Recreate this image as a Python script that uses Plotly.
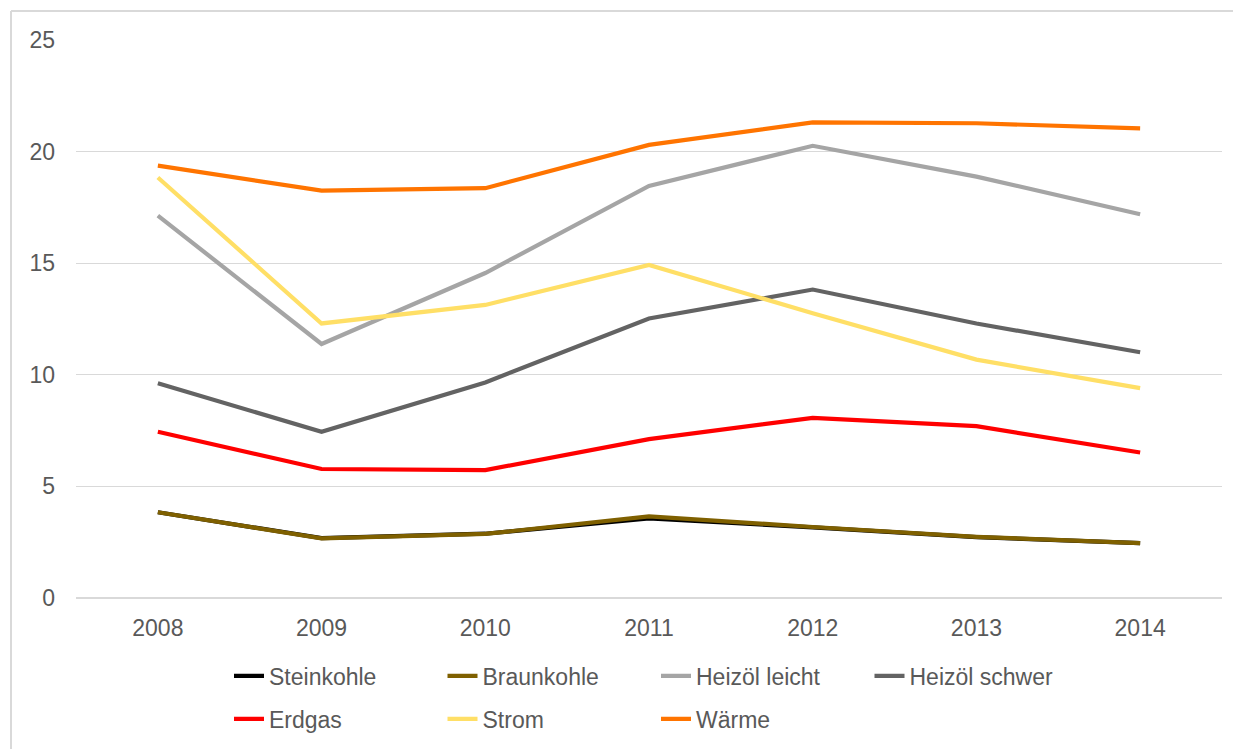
import plotly.graph_objects as go

years = ["2008", "2009", "2010", "2011", "2012", "2013", "2014"]

steinkohle = [3.84, 2.68, 2.88, 3.57, 3.16, 2.73, 2.46]
braunkohle = [3.84, 2.67, 2.87, 3.66, 3.18, 2.74, 2.46]
heizoel_leicht = [17.13, 11.38, 14.56, 18.46, 20.26, 18.88, 17.19]
heizoel_schwer = [9.62, 7.45, 9.66, 12.52, 13.82, 12.3, 11.01]
erdgas = [7.45, 5.78, 5.73, 7.12, 8.07, 7.7, 6.52]
strom = [18.84, 12.3, 13.13, 14.92, 12.76, 10.68, 9.4]
waerme = [19.37, 18.25, 18.36, 20.3, 21.31, 21.27, 21.04]

series = [
    ("Steinkohle", steinkohle, "#000000", "legend"),
    ("Braunkohle", braunkohle, "#7f6000", "legend"),
    ("Heizöl leicht", heizoel_leicht, "#a5a5a5", "legend"),
    ("Heizöl schwer", heizoel_schwer, "#636363", "legend"),
    ("Erdgas", erdgas, "#ff0000", "legend2"),
    ("Strom", strom, "#ffdf66", "legend2"),
    ("Wärme", waerme, "#ff7400", "legend2"),
]

FONT = "Liberation Sans, Arial, sans-serif"
TXT = "#595959"
FS = 23

fig = go.Figure()
for name, vals, col, lg in series:
    fig.add_trace(go.Scatter(
        x=years, y=vals, name=name, mode="lines",
        line=dict(color=col, width=4.2),
        legend=lg,
    ))

# page body offset compensation (8px) and plot area geometry (target pixels)
OFF = 8
L, R, T, B = 76, 1222, 40, 598
W, H = R - L, B - T

def px(xp):
    return (xp - L) / W

def py(yp):
    return (B - yp) / H

legend_common = dict(
    orientation="h",
    xanchor="left", yanchor="middle",
    font=dict(family=FONT, size=FS, color=TXT),
    entrywidth=168.5, entrywidthmode="pixels",
    bgcolor="rgba(0,0,0,0)", itemclick=False, itemdoubleclick=False,
    tracegroupgap=0,
)

fig.update_layout(
    width=1241, height=749,
    margin=dict(l=L - OFF, r=1241 - R + OFF, t=T - OFF, b=749 - B + OFF, pad=0),
    paper_bgcolor="white", plot_bgcolor="white",
    font=dict(family=FONT, size=FS, color=TXT),
    showlegend=True,
    legend=dict(x=px(229), y=py(676), **legend_common),
    legend2=dict(x=px(229), y=py(719), **legend_common),
    xaxis=dict(
        type="category", range=[-0.5, 6.5],
        showgrid=False, showline=False, zeroline=False,
        ticks="", tickfont=dict(family=FONT, size=FS, color=TXT),
        ticklabelstandoff=14,
    ),
    yaxis=dict(
        range=[0, 25], dtick=5, tick0=0,
        showgrid=True, gridcolor="#d9d9d9", gridwidth=1,
        zeroline=True, zerolinecolor="#d9d9d9", zerolinewidth=1.5,
        showline=False, ticks="",
        tickfont=dict(family=FONT, size=FS, color=TXT),
        ticklabelstandoff=20,
    ),
    shapes=[
        dict(type="line", xref="paper", yref="paper",
             x0=px(11), x1=px(1260), y0=py(11), y1=py(11),
             line=dict(color="#d9d9d9", width=2)),
        dict(type="line", xref="paper", yref="paper",
             x0=px(11), x1=px(11), y0=py(11), y1=py(770),
             line=dict(color="#d9d9d9", width=2)),
    ],
)

fig.write_html("out.html")
